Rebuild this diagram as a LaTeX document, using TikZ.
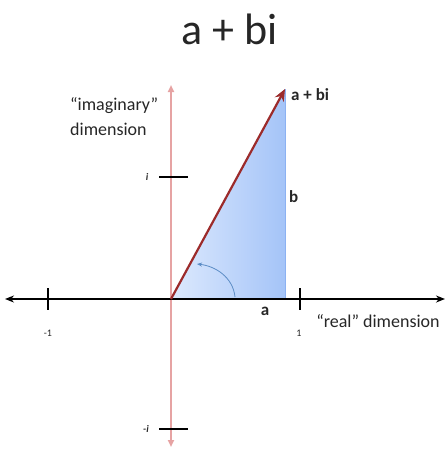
\documentclass[tikz,border=0pt]{standalone}
\usepackage{fontspec}
\setmainfont{Carlito}
\usetikzlibrary{arrows.meta,positioning,calc}
\definecolor{cxaxis}{HTML}{E6A3A3}
\definecolor{cxvec}{HTML}{9C2B2B}
\definecolor{cxlight}{HTML}{DDE9FD}
\definecolor{cxblue}{HTML}{A4C4F8}
\definecolor{cxedge}{HTML}{8CB2F2}
\definecolor{cxarc}{HTML}{5C8DC6}
\definecolor{cxtext}{HTML}{262626}
\tikzset{
  realaxis/.style={{Stealth[length=9pt,width=7pt]}-{Stealth[length=9pt,width=7pt]},line width=1.8pt,black},
  imagaxis/.style={{Triangle[length=7pt,width=6pt]}-{Triangle[length=7pt,width=6pt]},line width=2pt,cxaxis},
  tickmark/.style={line width=1.8pt,black},
  vec/.style={-{Stealth[length=12pt,width=10pt]},line width=2.2pt,cxvec},
  lab/.style={font=\fontsize{17}{20}\selectfont\bfseries,text=cxtext,inner sep=1pt},
  axlab/.style={font=\fontsize{18}{25}\selectfont,text=cxtext,align=left,inner sep=1pt},
  ticklab/.style={font=\fontsize{10}{11}\selectfont,text=cxtext,inner sep=1pt},
}
\begin{document}
\begin{tikzpicture}[x=1pt,y=-1pt]
  \useasboundingbox (0,0) rectangle (446,450);
  % points of the plane
  \coordinate (O) at (171,299);
  \coordinate (A) at (285,299);
  \coordinate (Z) at (285,89);
  \coordinate (W) at (5,299);
  \coordinate (E) at (445,299);
  \coordinate (N) at (171,85);
  \coordinate (S) at (171,447);
  % triangle under the vector
  \shade[left color=cxlight,right color=cxblue] (O) -- (A) -- (Z) -- cycle;
  \draw[cxedge,line width=1pt] (A) -- (Z);
  % axes
  \draw[imagaxis] (S) -- (N);
  \draw[realaxis] (W) -- (E);
  \foreach \x/\n in {48/m,300/p}
    {\draw[tickmark] (\x,288) -- (\x,310);}
  \foreach \y/\n in {177/p,429/m}
    {\draw[tickmark] (159,\y) -- (188,\y);}
  % the vector and its angle
  \draw[vec] (O) -- (Z);
  \coordinate (arcs) at (235,297);
  \coordinate (arce) at (197,264);
  \draw[cxarc,line width=0.8pt,-{Stealth[length=5pt,width=4pt]}] (arcs) .. controls (233,277) and (215,266) .. (arce);
  % labels
  \node[font=\fontsize{44}{50}\selectfont,text=cxtext,anchor=base] (title) at (230,44) {a + bi};
  \node[lab,anchor=west] (zlab) at (290,95) {a + bi};
  \node[lab,anchor=west] (blab) at (288,197) {b};
  \node[lab] (alab) at (265,311) {a};
  \node[axlab,anchor=west] (imlab) at (69,117) {“imaginary”\\dimension};
  \node[axlab] (relab) at (378,321) {“real” dimension};
  \node[ticklab] (mone) at (48,333) {-1};
  \node[ticklab] (pone) at (299,333) {1};
  \node[ticklab,font=\fontsize{10}{11}\selectfont\bfseries\itshape] (plusi) at (147,177) {i};
  \node[ticklab,font=\fontsize{10}{11}\selectfont\bfseries\itshape] (minusi) at (146,429) {-i};
\end{tikzpicture}
\end{document}
